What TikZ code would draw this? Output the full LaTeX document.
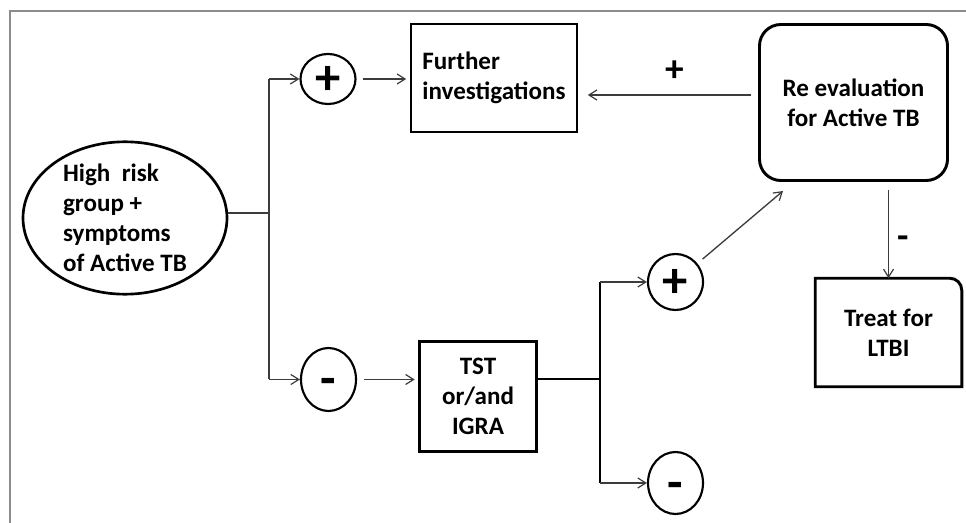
\documentclass[tikz,border=0pt]{standalone}
\usepackage{fontspec}
\setmainfont{Carlito}
\usetikzlibrary{arrows.meta,shapes.geometric}
\definecolor{framec}{HTML}{8C8C8C}
\definecolor{arrc}{HTML}{3C3C3C}
\newcommand\txtfont{\fontsize{18.8}{22.5}\selectfont\bfseries}
\newcommand\symfont{\fontsize{38}{38}\selectfont\bfseries}
\newcommand\lblfont{\fontsize{28}{28}\selectfont\bfseries}
\begin{document}
\begin{tikzpicture}[x=0.75pt,y=-0.75pt,
  boxst/.style={draw, line width=2.2pt, inner sep=0pt, font=\txtfont, align=center},
  ellst/.style={ellipse, draw, line width=2pt, inner sep=0pt, font=\txtfont, align=left,
                minimum width=153pt, minimum height=111pt},
  circst/.style={ellipse, draw, line width=1.6pt, inner sep=0pt, font=\symfont,
                 text height=24pt, text depth=0pt, minimum width=41.25pt},
  conn/.style={draw=arrc, line width=1pt},
  connb/.style={draw=black, line width=1.5pt},
  arr/.style={draw=arrc, line width=1pt, -{Straight Barb[length=6pt,width=7.5pt,line width=0.9pt]}},
  lbl/.style={inner sep=0pt, font=\lblfont, text height=17.5pt, text depth=0pt}]
\useasboundingbox (0,0) rectangle (966,523);
% frame
\draw[framec, line width=1.6pt] (10,523) -- (10,11) -- (966,11);

% nodes
\node[ellst] (hr) at (125,218) {High\ \ risk\\group +\\symptoms\\of Active TB};
\node[circst, minimum height=37.5pt] (p1) at (328,79) {+};
\node[circst, minimum height=47.25pt] (m1) at (328.5,379.5) {-};
\node[boxst, minimum width=124.5pt, minimum height=81pt, align=left] (fi) at (494,78) {Further\\investigations};
\node[boxst, rounded corners=16pt, minimum width=141pt, minimum height=117pt] (re) at (853.5,102.5) {Re evaluation\\for Active TB};
\node[inner sep=0pt, font=\txtfont, align=center, minimum width=109.5pt, minimum height=81pt] (tr) at (888.5,332.5) {Treat for\\LTBI};
\draw[line width=2.2pt] (tr.south west) -- (tr.north west) -- ([xshift=-9pt]tr.north east)
   arc[start angle=90, end angle=0, radius=9pt] -- (tr.south east) -- cycle;
\node[boxst, minimum width=87.75pt, minimum height=82.5pt] (tst) at (478,396.5) {TST\\or/and\\IGRA};
\node[circst, minimum height=42pt] (p2) at (675.5,282) {+};
\node[circst, minimum height=46.5pt] (m2) at (675.5,483) {-};

% labels
\node[lbl] (lp) at (675,70) {+};
\node[lbl] (lm) at (903,237) {-};

% junction coordinates
\coordinate (j1) at (269,213);
\coordinate (j1a) at (269,79);
\coordinate (j1b) at (269,379.5);
\coordinate (j2) at (600,379);
\coordinate (j2a) at (600,282);
\coordinate (j2b) at (600,483);
\coordinate (yA) at (0,95);
\coordinate (reIn) at (783,191);

% connectors
\draw[conn] (hr.east |- j1) -- (j1);
\draw[conn] (j1a) -- (j1b);
\draw[arr] (j1a) -- (p1);
\draw[arr] (j1b) -- (m1);
\draw[arr, shorten <=5pt, shorten >=2.5pt] (p1) -- (fi.west |- p1);
\draw[arr, shorten <=5pt, shorten >=7pt] (re.west |- yA) -- (fi.east |- yA);
\draw[arr, shorten <=5pt, shorten >=2.5pt] (m1) -- (tst.west |- m1);
\draw[connb] (tst.east |- j2) -- (j2);
\draw[connb] (j2a) -- (j2b);
\draw[arr] (j2a) -- (p2);
\draw[arr] (j2b) -- (m2);
\draw[arr, shorten <=5pt] (p2) -- (reIn);
\draw[arr, shorten <=6pt] (re.south -| tr.north) -- (tr.north);
\end{tikzpicture}
\end{document}
